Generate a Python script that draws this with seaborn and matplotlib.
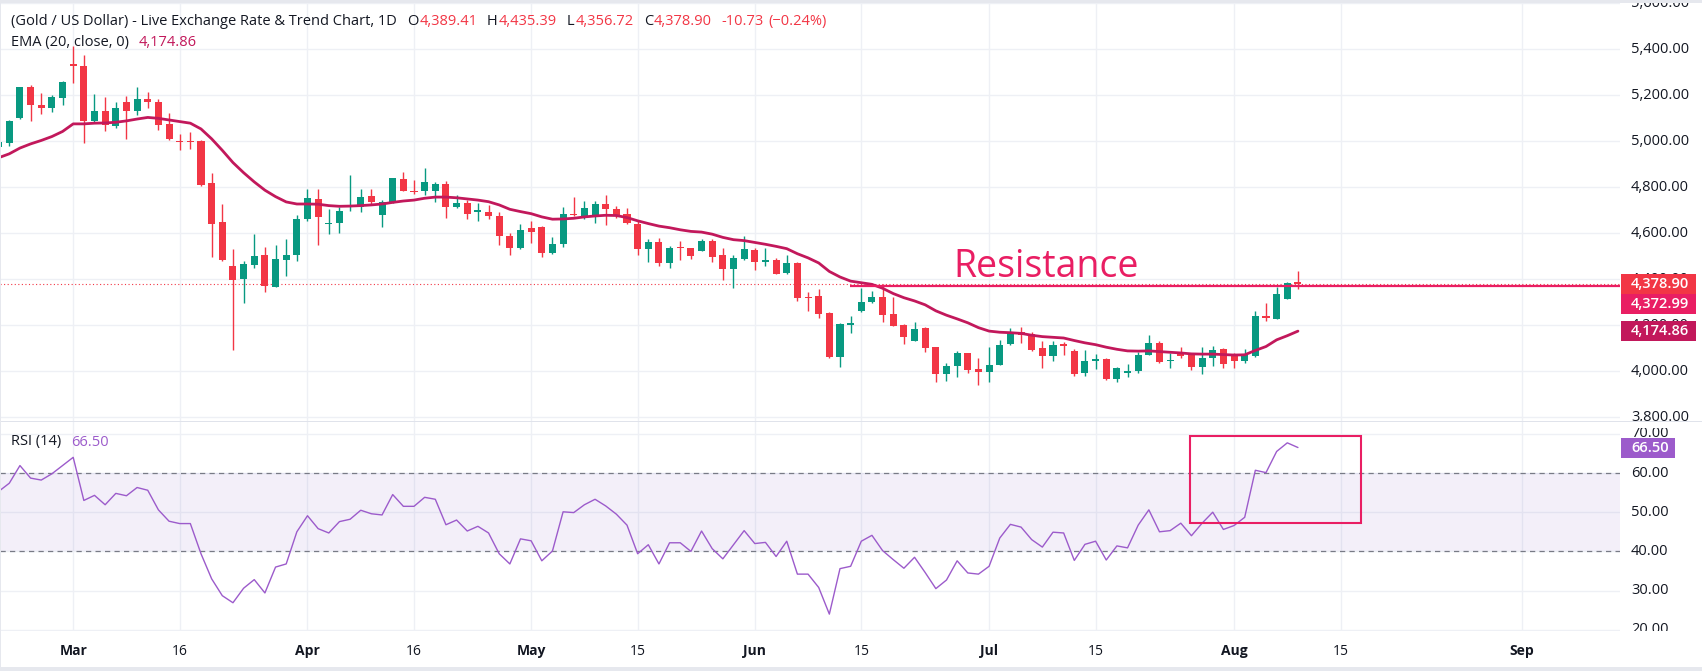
import numpy as np
import pandas as pd
import matplotlib
matplotlib.use("Agg")
import matplotlib.pyplot as plt
from matplotlib.patches import Rectangle
from matplotlib.transforms import blended_transform_factory
import seaborn as sns

# ---- data (daily candles, first one is cut at the left edge) ----
opens = [4975, 4993, 5099, 5233, 5159, 5144, 5187, 5336, 5328, 5086, 5129, 5066, 5172, 5131, 5181,
         5172, 5075, 4998, 4998, 5000, 4819, 4647, 4457, 4402, 4463, 4504, 4368, 4484, 4506, 4661,
         4750, 4639, 4644, 4720, 4713, 4763, 4678, 4734, 4836, 4783, 4782, 4784, 4815, 4713, 4733,
         4691, 4694, 4677, 4590, 4536, 4621, 4629, 4514, 4553, 4685, 4665, 4671, 4728, 4707, 4685,
         4642, 4532, 4560, 4471, 4539, 4534, 4523, 4565, 4504, 4445, 4487, 4526, 4475, 4483, 4428,
         4470, 4325, 4327, 4254, 4062, 4201, 4263, 4303, 4323, 4250, 4202, 4134, 4187, 4105, 3990,
         4023, 4078, 4010, 3997, 4027, 4118, 4170, 4162, 4101, 4068, 4121, 4090, 3993, 4047, 4052,
         3968, 3993, 4001, 4072, 4124, 4045, 4085, 4076, 4019, 4057, 4099, 4073, 4045, 4065, 4240,
         4228, 4316, 4389.41]
highs = [5010, 5092, 5236, 5244, 5211, 5200, 5262, 5412, 5375, 5204, 5190, 5168, 5194, 5233, 5215,
         5185, 5121, 5032, 5039, 5007, 4862, 4728, 4530, 4478, 4596, 4539, 4547, 4573, 4681, 4790,
         4794, 4704, 4713, 4853, 4794, 4790, 4746, 4840, 4866, 4832, 4884, 4823, 4828, 4766, 4744,
         4733, 4723, 4694, 4603, 4642, 4655, 4631, 4582, 4715, 4758, 4740, 4740, 4767, 4720, 4711,
         4657, 4576, 4580, 4546, 4565, 4537, 4573, 4573, 4534, 4507, 4590, 4536, 4534, 4491, 4507,
         4473, 4345, 4359, 4256, 4210, 4241, 4363, 4349, 4378, 4323, 4204, 4215, 4191, 4108, 4037,
         4090, 4080, 4056, 4108, 4138, 4188, 4194, 4171, 4134, 4131, 4128, 4098, 4095, 4076, 4059,
         4019, 4033, 4083, 4159, 4134, 4078, 4105, 4078, 4108, 4112, 4102, 4079, 4098, 4263, 4297,
         4366, 4388, 4435.39]
lows = [4960, 4977, 5096, 5086, 5118, 5125, 5159, 5254, 4993, 5077, 5043, 5057, 5009, 5113, 5144,
        5049, 5006, 4963, 4967, 4805, 4497, 4478, 4092, 4299, 4450, 4346, 4366, 4414, 4480, 4655,
        4549, 4595, 4599, 4695, 4694, 4723, 4626, 4731, 4782, 4769, 4764, 4734, 4665, 4711, 4661,
        4651, 4661, 4549, 4506, 4533, 4557, 4497, 4510, 4540, 4677, 4664, 4644, 4635, 4665, 4639,
        4506, 4475, 4458, 4450, 4484, 4487, 4521, 4475, 4398, 4363, 4484, 4440, 4458, 4421, 4421,
        4307, 4263, 4230, 4060, 4019, 4165, 4256, 4299, 4213, 4195, 4118, 4132, 4083, 3954, 3958,
        3976, 3994, 3940, 3954, 4026, 4116, 4122, 4089, 4014, 4047, 4069, 3980, 3978, 4010, 3964,
        3954, 3976, 3994, 4070, 4036, 4016, 4057, 4004, 3987, 4023, 4014, 4016, 4036, 4062, 4217,
        4226, 4313, 4356.72]
closes = [4997, 5089, 5233, 5157, 5144, 5190, 5259, 5325, 5086, 5129, 5070, 5146, 5131, 5185, 5169,
          5070, 5009, 4996, 4995, 4810, 4639, 4484, 4398, 4465, 4500, 4371, 4487, 4504, 4664, 4754,
          4669, 4642, 4698, 4724, 4759, 4737, 4736, 4838, 4782, 4780, 4822, 4815, 4713, 4733, 4682,
          4702, 4674, 4588, 4536, 4616, 4605, 4514, 4552, 4685, 4678, 4711, 4728, 4704, 4678, 4644,
          4532, 4560, 4471, 4537, 4536, 4501, 4565, 4497, 4445, 4491, 4530, 4475, 4483, 4422, 4470,
          4320, 4320, 4251, 4062, 4207, 4210, 4302, 4323, 4247, 4198, 4148, 4184, 4101, 3990, 4022,
          4080, 4007, 3999, 4026, 4116, 4170, 4158, 4095, 4066, 4116, 4109, 3990, 4043, 4055, 3966,
          4013, 4001, 4069, 4125, 4040, 4050, 4066, 4019, 4059, 4095, 4030, 4045, 4072, 4241, 4230,
          4336, 4384, 4378.90]
ema20 = [4928, 4945, 4970, 4988, 5003, 5020, 5042, 5075, 5075, 5078, 5079, 5082, 5088, 5096, 5103,
         5099, 5092, 5085, 5078, 5053, 5010, 4960, 4907, 4863, 4823, 4787, 4759, 4736, 4727, 4727,
         4726, 4720, 4717, 4718, 4720, 4723, 4727, 4734, 4740, 4744, 4752, 4757, 4757, 4754, 4749,
         4744, 4737, 4723, 4704, 4694, 4685, 4671, 4661, 4662, 4665, 4671, 4675, 4678, 4677, 4668,
         4654, 4642, 4631, 4624, 4615, 4608, 4605, 4596, 4582, 4572, 4568, 4560, 4552, 4543, 4533,
         4511, 4493, 4471, 4434, 4410, 4392, 4385, 4378, 4361, 4338, 4320, 4306, 4289, 4263, 4244,
         4228, 4211, 4190, 4175, 4170, 4168, 4165, 4157, 4151, 4148, 4145, 4134, 4124, 4116, 4105,
         4096, 4089, 4088, 4089, 4086, 4083, 4080, 4076, 4075, 4075, 4073, 4071, 4072, 4091, 4108,
         4137, 4155, 4174.86]
rsi14 = [55.3, 57.4, 61.9, 58.7, 58.2, 59.8, 61.9, 64.0, 53.0, 54.3, 51.9,
         54.8, 54.2, 56.3, 55.6, 50.6, 47.7, 47.1, 47.1, 39.4, 33.0,
         28.7, 26.9, 30.6, 32.8, 29.4, 36.0, 36.8, 45.0, 49.1, 45.8,
         44.7, 47.6, 48.2, 50.5, 49.6, 49.3, 54.5, 51.5, 51.5, 53.8,
         53.3, 46.8, 48.0, 45.2, 46.4, 44.7, 39.4, 36.8, 43.2, 42.7,
         37.6, 40.1, 50.1, 49.9, 51.9, 53.3, 51.6, 49.5, 46.7, 39.4,
         41.7, 36.8, 42.2, 42.2, 40.0, 45.2, 40.7, 38.1, 41.7, 45.3,
         42.0, 42.3, 38.7, 42.6, 34.2, 34.2, 30.8, 24.0, 35.6, 36.2,
         42.6, 44.1, 40.2, 37.9, 35.7, 38.5, 34.6, 30.5, 32.7, 37.6,
         34.5, 34.2, 36.2, 43.4, 46.9, 46.2, 43.0, 41.1, 44.9, 44.7,
         37.7, 41.8, 42.6, 37.8, 41.4, 40.9, 46.7, 50.6, 45.0, 45.3,
         47.2, 44.0, 47.2, 50.0, 45.6, 46.6, 48.7, 60.7, 60.1, 65.5,
         67.7, 66.5]

# x axis labels (candle index of each label)
tick_pos = [6, 16, 28, 38, 49, 59, 70, 80, 92, 102, 115, 125, 142]
tick_labels = ["Mar", "16", "Apr", "16", "May", "15", "Jun", "15", "Jul", "15", "Aug", "15", "Sep"]
price_ticks = [3800, 4000, 4200, 4400, 4600, 4800, 5000, 5200, 5400, 5600]
rsi_ticks = [20, 30, 40, 50, 60, 70]

resistance_level = 4372.99
resistance_start = 78.9
ema_last = 4174.86
rsi_last = 66.50
box_x = (110.9, 126.9)
box_y = (47.3, 69.5)

GREEN = "#089981"
RED = "#F23645"
PINK = "#E91E63"
EMA_C = "#C2185B"
RSI_C = "#9C5BCB"
DARK = "#131722"
GRID = "#EEF0F5"

sns.set_theme(style="white")
plt.rcParams["font.family"] = ["Open Sans", "DejaVu Sans"]

W, H = 1702, 671
fig = plt.figure(figsize=(W / 100, H / 100), dpi=100)


def fy(px):
    return 1 - px / H


ax = fig.add_axes([0, fy(421), 1620 / W, (421 - 3) / H])
ax_rsi = fig.add_axes([0, fy(631), 1620 / W, (631 - 421) / H])

x = np.arange(len(opens)) - 1
df = pd.DataFrame({"x": x, "open": opens, "high": highs, "low": lows, "close": closes,
                   "ema": ema20, "rsi": rsi14})
up = df["close"] >= df["open"]
cols = np.where(up, GREEN, RED)

# ---- price panel ----
ax.vlines(df["x"], df["low"], df["high"], colors=cols, lw=1.0, zorder=3)
body = np.maximum((df["close"] - df["open"]).abs(), 4)
ax.bar(df["x"], body, bottom=df[["open", "close"]].min(axis=1), width=0.66,
       color=cols, linewidth=0, zorder=4)
sns.lineplot(data=df, x="x", y="ema", ax=ax, color=EMA_C, lw=2.0, zorder=5)

ax.axhline(closes[-1], color=RED, lw=0.8, ls=(0, (1, 2.2)), zorder=2)
ax.hlines(resistance_level, resistance_start, 160, color=PINK, lw=1.6, zorder=6)
ax.text(97.4, 4411, "Resistance", color=PINK, fontsize=27, ha="center", va="baseline", zorder=7)

ax.set_xlim(-0.873, 151.24)
ax.set_ylim(3784.5, 5586)
ax.set_xticks(tick_pos)
ax.set_yticks(price_ticks)
ax.grid(True, color=GRID, lw=1)
ax.tick_params(left=False, bottom=False, labelleft=False, labelbottom=False)
ax.set_xlabel("")
ax.set_ylabel("")
for s in ax.spines.values():
    s.set_visible(False)

# ---- RSI panel ----
ax_rsi.axhspan(40, 60, color="#7E57C2", alpha=0.09, lw=0, zorder=1)
for lvl in (40, 60):
    ax_rsi.axhline(lvl, color="#787B86", lw=0.9, ls=(0, (4.2, 3.4)), zorder=2)
sns.lineplot(data=df, x="x", y="rsi", ax=ax_rsi, color=RSI_C, lw=1.0, zorder=4)
ax_rsi.add_patch(Rectangle((box_x[0], box_y[0]), box_x[1] - box_x[0], box_y[1] - box_y[0],
                           fill=False, ec=PINK, lw=1.5, zorder=5))
ax_rsi.set_xlim(-0.873, 151.24)
ax_rsi.set_ylim(19.69, 73.27)
ax_rsi.set_yticks(rsi_ticks)
ax_rsi.set_xticks(tick_pos, tick_labels)
ax_rsi.grid(True, color=GRID, lw=1)
ax_rsi.tick_params(left=False, bottom=False, labelleft=False, labelsize=10, pad=3.5, labelcolor=DARK)
for lbl in ax_rsi.get_xticklabels():
    if not lbl.get_text().isdigit():
        lbl.set_fontweight("bold")
ax_rsi.set_xlabel("")
ax_rsi.set_ylabel("")
for s in ax_rsi.spines.values():
    s.set_visible(False)


# ---- right axis labels and value tags ----
def axis_labels(a, ticks, fmt):
    tr = blended_transform_factory(a.transAxes, a.transData)
    for v in ticks:
        a.text(1 + 11 / 1620, v, fmt(v), transform=tr, va="center", ha="left",
               fontsize=10.5, color=DARK, clip_on=False, zorder=10)


def tag(a, y, label, color, h, wpx=75):
    tr = blended_transform_factory(a.transAxes, a.transData)
    a.add_patch(Rectangle((1 + 1 / 1620, y - h / 2), wpx / 1620, h, transform=tr,
                          color=color, lw=0, clip_on=False, zorder=20))
    a.text(1 + 11 / 1620, y, label, transform=tr, va="center", ha="left", fontsize=10.5,
           color="white", fontweight="semibold", clip_on=False, zorder=21)


axis_labels(ax, price_ticks, lambda v: f"{v:,.2f}")
axis_labels(ax_rsi, rsi_ticks, lambda v: f"{v:.2f}")

ph = 20 / 0.232  # tag height in price units (20 px)
tag(ax, closes[-1], f"{closes[-1]:,.2f}", RED, ph)
tag(ax, closes[-1] - ph, f"{resistance_level:,.2f}", PINK, ph)
tag(ax, ema_last, f"{ema_last:,.2f}", EMA_C, ph)
tag(ax_rsi, rsi_last, f"{rsi_last:.2f}", RSI_C, 20 / 3.92, wpx=54)

# ---- header texts ----
renderer = fig.canvas.get_renderer()


def row(pieces, x0, y, size=10.5):
    xx = x0
    for s, c, gap in pieces:
        t = fig.text(xx / W, fy(y), s, color=c, fontsize=size, va="center", ha="left")
        xx += t.get_window_extent(renderer=renderer).width + gap


row([("(Gold / US Dollar) - Live Exchange Rate & Trend Chart, 1D", DARK, 10),
     ("O", DARK, 1), (f"{opens[-1]:,.2f}", RED, 10),
     ("H", DARK, 1), (f"{highs[-1]:,.2f}", RED, 10),
     ("L", DARK, 1), (f"{lows[-1]:,.2f}", RED, 10),
     ("C", DARK, 1), (f"{closes[-1]:,.2f}", RED, 9),
     ("-10.73", RED, 5), ("(\u22120.24%)", RED, 0)], 11, 21.5)
row([("EMA (20, close, 0)", DARK, 10), (f"{ema_last:,.2f}", EMA_C, 0)], 11, 42.5)
row([("RSI (14)", DARK, 10), (f"{rsi_last:.2f}", RSI_C, 0)], 11, 442)

# ---- frame, panel separator, label cut-offs at panel edges ----
def band(x0, y0, x1, y1, color):
    fig.patches.append(Rectangle((x0 / W, fy(y1)), (x1 - x0) / W, (y1 - y0) / H,
                                 transform=fig.transFigure, color=color, lw=0, zorder=30))


band(1621, 421, W, 428, "white")
band(1621, 631, W, 666, "white")
band(0, 0, W, 2.7, "#E6E8EE")
band(0, 666.5, W, H, "#E6E8EE")
band(0, 420.8, W, 422, "#E0E3EB")
band(0, 0, 1.2, H, "#E6E8EE")

fig.savefig("out.png", dpi=100)
